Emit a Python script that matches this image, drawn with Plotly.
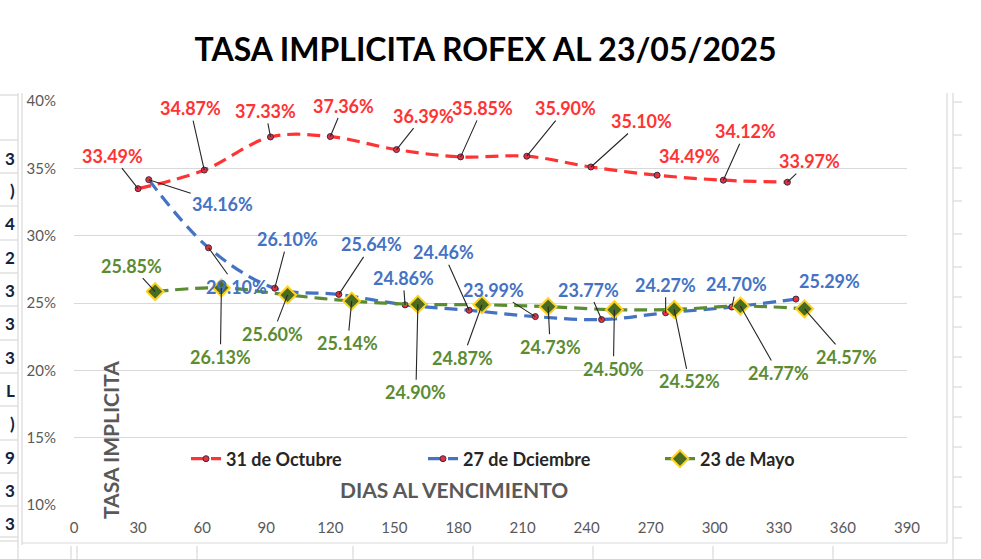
import plotly.graph_objects as go

# dias al vencimiento y tasa implicita (%) de cada curva
dias_oct = [30, 61, 92, 120, 151, 181, 212, 242, 273, 304, 334]
tasa_oct = [33.49, 34.87, 37.33, 37.36, 36.39, 35.85, 35.90, 35.10, 34.49, 34.12, 33.97]

dias_dic = [35, 63, 94, 124, 155, 185, 216, 247, 277, 308, 338]
tasa_dic = [34.16, 29.10, 26.10, 25.64, 24.86, 24.46, 23.99, 23.77, 24.27, 24.70, 25.29]

dias_may = [38, 69, 100, 130, 161, 191, 222, 253, 281, 312, 342]
tasa_may = [25.85, 26.13, 25.60, 25.14, 24.90, 24.87, 24.73, 24.50, 24.52, 24.77, 24.57]

x_ticks = list(range(0, 391, 30))
y_ticks = [0.10, 0.15, 0.20, 0.25, 0.30, 0.35, 0.40]

# desplazamiento (px) de cada etiqueta respecto de su punto, y si lleva linea guia
off_oct = [(-26, -33), (-14, -62), (-5, -26), (13, -31), (27, -34), (22, -49),
           (39, -48), (51, -46), (32, -19), (22, -49), (22, -21)]
guia_oct = [1, 1, 1, 1, 1, 1, 1, 1, 0, 1, 1]
off_dic = [(74, 24), (28, 39), (13, -49), (33, -50), (-2, -27), (-26, -58),
           (-42, -27), (-13, -30), (0, -28), (5, -23), (34, -18)]
guia_dic = [1, 1, 1, 1, 1, 1, 1, 1, 1, 1, 0]
off_may = [(-24, -26), (-1, 69), (-15, 39), (-4, 42), (-2, 88), (-19, 53),
           (2, 40), (-1, 59), (15, 72), (38, 67), (42, 48)]
guia_may = [1] * 11

ROJO = "#FF3333"
AZUL = "#4472C4"
VERDE = "#5B8C32"
FONT = "Lato"

W, H = 981, 559
L, R, T, B = 74, 74, 101, 54
PW, PH = W - L - R, H - T - B


def px(x):
    return (x - L) / PW


def py(y):
    return (H - B - y) / PH


fig = go.Figure()

fig.add_trace(go.Scatter(
    x=dias_oct, y=[v / 100 for v in tasa_oct], name="31 de Octubre",
    mode="lines+markers", line=dict(color=ROJO, width=3.2, dash="13px,7px", shape="spline", smoothing=1),
    marker=dict(symbol="circle", size=6, color="#E8303A", line=dict(color="#3a2a4a", width=1))))
fig.add_trace(go.Scatter(
    x=dias_dic, y=[v / 100 for v in tasa_dic], name="27 de Dciembre",
    mode="lines+markers", line=dict(color=AZUL, width=3.2, dash="13px,7px", shape="spline", smoothing=1),
    marker=dict(symbol="circle", size=6, color="#E8303A", line=dict(color="#3a2a4a", width=1))))
fig.add_trace(go.Scatter(
    x=dias_may, y=[v / 100 for v in tasa_may], name="23 de Mayo",
    mode="lines+markers", line=dict(color=VERDE, width=3.2, dash="13px,7px", shape="spline", smoothing=1),
    marker=dict(symbol="diamond", size=13, color="#4A6B22", line=dict(color="#FFD21F", width=2))))

anns = []
for dias, tasas, offs, guias, col in [(dias_oct, tasa_oct, off_oct, guia_oct, ROJO),
                                      (dias_dic, tasa_dic, off_dic, guia_dic, AZUL),
                                      (dias_may, tasa_may, off_may, guia_may, VERDE)]:
    for d, t, (ax, ay), g in zip(dias, tasas, offs, guias):
        anns.append(dict(
            x=d, y=t / 100, xref="x", yref="y", text=f"{t:.2f}%", ax=ax, ay=ay,
            showarrow=True, arrowhead=0, arrowwidth=1.1, standoff=0,
            arrowcolor="#262626" if g else "rgba(0,0,0,0)",
            font=dict(family=FONT, size=18, color=col, weight="bold")))

# titulos de ejes dentro del area
anns.append(dict(x=px(454), y=py(489), xref="paper", yref="paper", text="DIAS AL VENCIMIENTO",
                 xanchor="center", yanchor="middle", showarrow=False,
                 font=dict(family=FONT, size=21, color="#595959", weight="bold")))
anns.append(dict(x=px(110), y=py(440), xref="paper", yref="paper", text="TASA IMPLICITA", textangle=-90,
                 xanchor="center", yanchor="middle", showarrow=False,
                 font=dict(family=FONT, size=21, color="#595959", weight="bold")))

# restos de celdas de la planilla a la izquierda
restos = ["3", ")", "4", "2", "3", "3", "3", "L", ")", "9", "3", "3"]
restos_y = [158, 190, 223, 257, 290, 323, 357, 390, 423, 457, 490, 523]
for c, yy in zip(restos, restos_y):
    anns.append(dict(x=px(17), y=py(yy), xref="paper", yref="paper", text=c, xanchor="right",
                     yanchor="middle", showarrow=False,
                     font=dict(family=FONT, size=17, color="#14213d", weight="bold")))

GRIS = "#D9D9D9"
shapes = []


def linea(x0, y0, x1, y1, color=GRIS, w=1.2):
    shapes.append(dict(type="line", xref="paper", yref="paper", x0=px(x0), y0=py(y0), x1=px(x1), y1=py(y1),
                       line=dict(color=color, width=w)))


# marco del grafico y lineas de la hoja
linea(22, 93, 22, 545)
linea(18, 93, 18, 559)
linea(22, 543, 947, 543)
linea(947, 93, 947, 543)
linea(953, 93, 953, 559)
for xx in [71, 77, 197, 353, 473, 593, 713, 833]:
    linea(xx, 546, xx, 559)
for yy in [95, 140, 173, 206, 240, 273, 306, 340, 373, 406, 440, 473, 506, 537, 541]:
    linea(0, yy, 18, yy)
for yy in [102, 135, 168, 201, 234, 267, 297, 327, 357, 387, 417, 447, 477, 507, 538]:
    linea(953, yy, 962, yy)

fig.update_layout(
    width=W, height=H,
    margin=dict(l=L, r=R, t=T, b=B),
    paper_bgcolor="white", plot_bgcolor="white",
    title=dict(text="<b>TASA IMPLICITA ROFEX AL 23/05/2025</b>", x=0.495, xanchor="center",
               y=1 - 50 / H, yanchor="middle", font=dict(family=FONT, size=32, color="black")),
    xaxis=dict(range=[0, 390], tickvals=x_ticks, showgrid=False, zeroline=False, showline=False,
               ticklabelstandoff=12, tickfont=dict(family=FONT, size=15, color="#595959")),
    yaxis=dict(range=[0.10, 0.40], tickvals=y_ticks, tickformat=".0%", showgrid=True, gridcolor=GRIS,
               gridwidth=1.3, zeroline=False, showline=False, ticklabelstandoff=17,
               tickfont=dict(family=FONT, size=15, color="#595959")),
    legend=dict(orientation="h", x=px(186), y=py(459), xanchor="left", yanchor="middle",
                bgcolor="rgba(0,0,0,0)", entrywidth=192, entrywidthmode="pixels",
                font=dict(family=FONT, size=18, color="#262626", weight="bold")),
    annotations=anns, shapes=shapes,
    showlegend=True,
)

fig.write_html("out.html", config={"displayModeBar": False},
               post_script="document.body.style.margin='0';")
